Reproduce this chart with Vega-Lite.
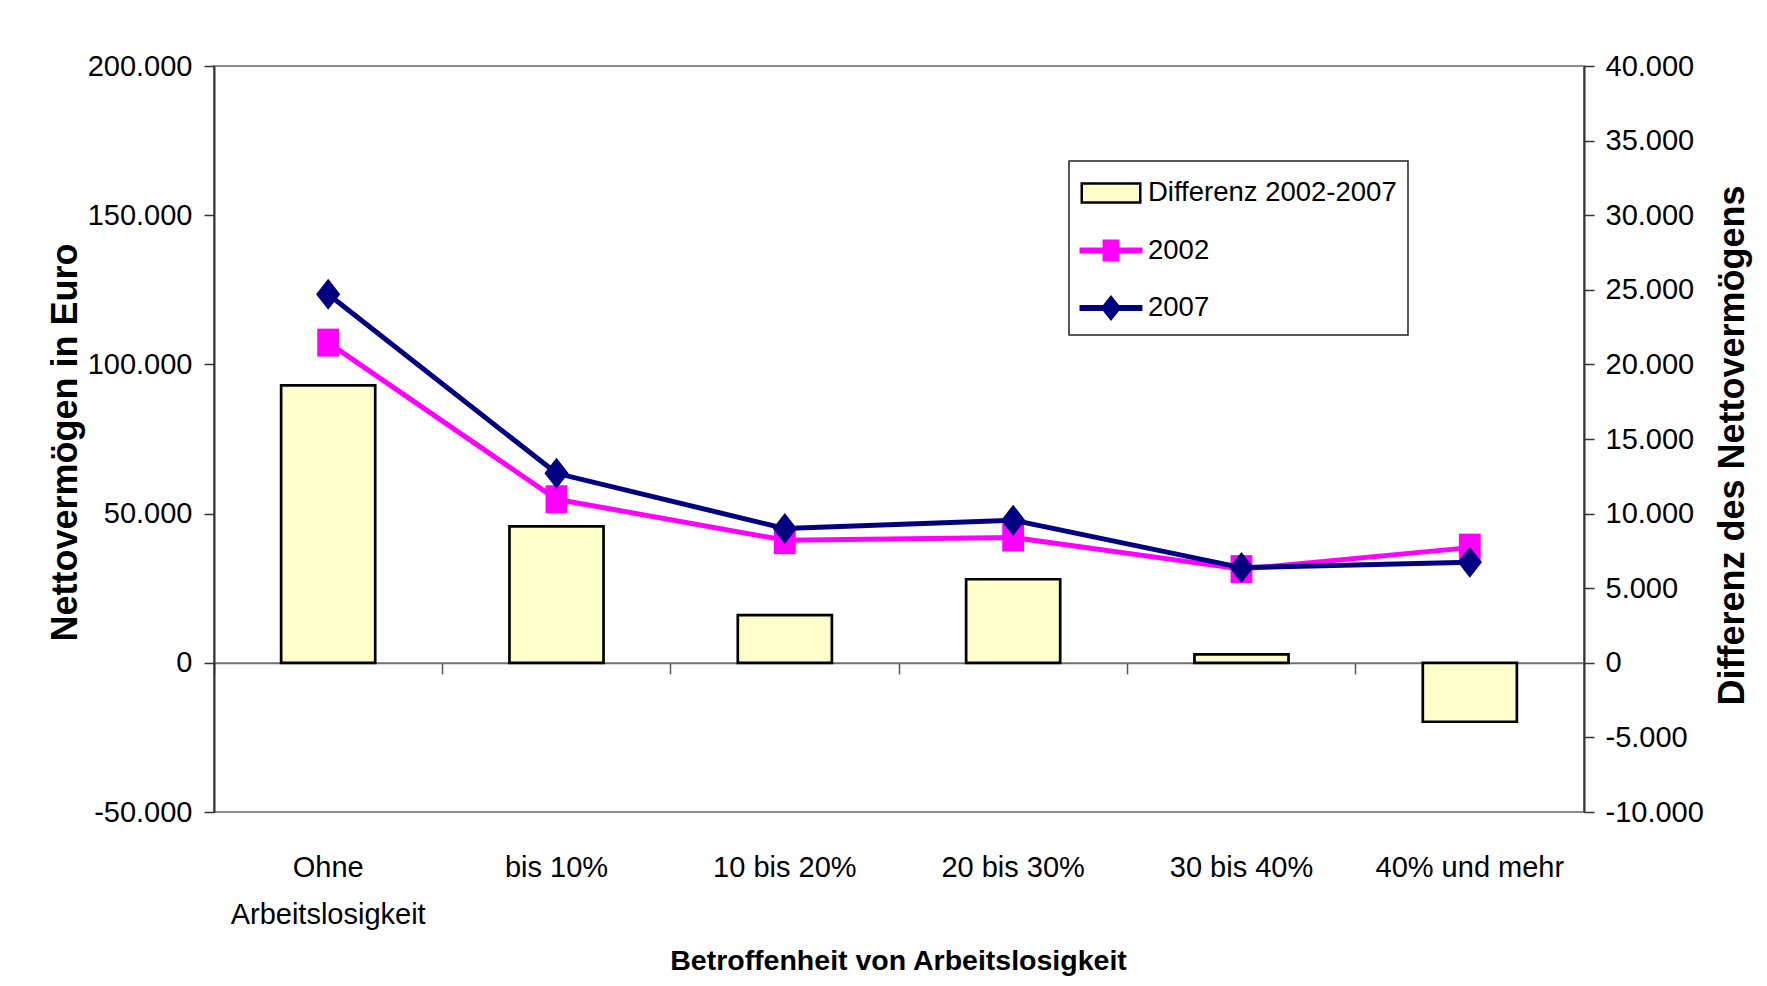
{
  "$schema": "https://vega.github.io/schema/vega-lite/v6.json",
  "width": 1370,
  "height": 746,
  "autosize": {"type": "none"},
  "padding": {"left": 214, "top": 66, "right": 183, "bottom": 174},
  "background": "white",
  "datasets": {
    "main": [
      {"cat": "Ohne Arbeitslosigkeit", "v2002": 107300, "v2007": 123500, "diff": 18600},
      {"cat": "bis 10%", "v2002": 54800, "v2007": 63500, "diff": 9150},
      {"cat": "10 bis 20%", "v2002": 41100, "v2007": 45000, "diff": 3200},
      {"cat": "20 bis 30%", "v2002": 42000, "v2007": 47800, "diff": 5600},
      {"cat": "30 bis 40%", "v2002": 31400, "v2007": 31900, "diff": 570},
      {"cat": "40% und mehr", "v2002": 38600, "v2007": 33700, "diff": -3950}
    ],
    "legend": [
      {"series": "Differenz 2002-2007"},
      {"series": "2002"},
      {"series": "2007"}
    ]
  },
  "config": {
    "locale": {"number": {"decimal": ",", "thousands": ".", "grouping": [3], "currency": ["", " €"], "minus": "-"}},
    "view": {"stroke": "#8c8c8c", "strokeWidth": 2},
    "axis": {"grid": false, "labelColor": "black", "titleColor": "black"},
    "legend": {
      "padding": 11,
      "strokeColor": "#222222",
      "strokeWidth": 1.5,
      "fillColor": "white",
      "labelFont": "Liberation Sans",
      "labelFontSize": 27.5,
      "labelColor": "black",
      "labelLimit": 500,
      "labelOffset": 16,
      "symbolSize": 1521,
      "symbolStrokeWidth": 2.5,
      "symbolOffset": 10,
      "rowPadding": 21.5,
      "symbolOpacity": 1
    }
  },
  "resolve": {"scale": {"y": "independent"}, "axis": {"x": "independent"}},
  "layer": [
    {
      "data": {"name": "main"},
      "mark": {"type": "bar", "fill": "#FFFFCC", "stroke": "black", "strokeWidth": 2.7, "width": {"band": 0.412}},
      "encoding": {
        "x": {
          "field": "cat", "type": "nominal", "sort": null,
          "scale": {"paddingInner": 0, "paddingOuter": 0},
          "axis": {
            "orient": "bottom", "domain": false, "ticks": false, "tickSize": 0,
            "labelAngle": 0, "labelFont": "Liberation Sans", "labelFontSize": 29,
            "labelPadding": 41, "labelLineHeight": 47, "labelLimit": 400,
            "labelExpr": "datum.label == 'Ohne Arbeitslosigkeit' ? ['Ohne', 'Arbeitslosigkeit'] : datum.label",
            "title": "Betroffenheit von Arbeitslosigkeit",
            "titleFont": "Liberation Sans", "titleFontWeight": "bold", "titleFontSize": 28.5,
            "titleX": 684, "titleY": 148, "titleBaseline": "middle", "titleAlign": "center"
          }
        },
        "y": {
          "field": "diff", "type": "quantitative",
          "scale": {"domain": [-10000, 40000], "nice": false, "zero": false},
          "axis": {
            "orient": "right",
            "values": [-10000, -5000, 0, 5000, 10000, 15000, 20000, 25000, 30000, 35000, 40000],
            "format": ",d",
            "labelFont": "Liberation Sans", "labelFontSize": 29, "labelPadding": 11,
            "tickSize": 10, "tickColor": "#333333", "tickWidth": 1.5,
            "domainColor": "#333333", "domainWidth": 2,
            "title": "Differenz des Nettovermögens",
            "titleFont": "Liberation Sans", "titleFontSize": 36, "titleFontWeight": "bold",
            "titleAngle": 270, "titleX": 148, "titleY": 379, "titleBaseline": "middle", "titleAlign": "center"
          }
        }
      }
    },
    {
      "layer": [
        {
          "data": {"name": "main"},
          "mark": {"type": "line", "color": "#FF00FF", "strokeWidth": 5},
          "encoding": {
            "x": {
              "field": "cat", "type": "nominal", "sort": null,
              "axis": {
                "orient": "bottom", "offset": -149.2, "labels": false, "title": null,
                "domain": true, "domainColor": "#707070", "domainWidth": 2,
                "ticks": true, "tickSize": 11, "tickColor": "#555555", "tickWidth": 1.5,
                "bandPosition": 0
              }
            },
            "y": {
              "field": "v2002", "type": "quantitative",
              "scale": {"domain": [-50000, 200000], "nice": false, "zero": false},
              "axis": {
                "orient": "left",
                "values": [-50000, 0, 50000, 100000, 150000, 200000],
                "format": ",d",
                "labelFont": "Liberation Sans", "labelFontSize": 29, "labelPadding": 12,
                "tickSize": 10, "tickColor": "#333333", "tickWidth": 1.5,
                "domainColor": "#333333", "domainWidth": 2,
                "title": "Nettovermögen in Euro",
                "titleFont": "Liberation Sans", "titleFontSize": 36, "titleFontWeight": "bold",
                "titleAngle": 270, "titleX": -149, "titleY": 376, "titleBaseline": "middle", "titleAlign": "center"
              }
            }
          }
        },
        {
          "data": {"name": "main"},
          "mark": {"type": "point", "filled": true, "opacity": 1, "shape": "M-0.78,-1H0.78V1H-0.78Z", "size": 784, "color": "#FF00FF", "strokeWidth": 0},
          "encoding": {
            "x": {"field": "cat", "type": "nominal", "sort": null},
            "y": {"field": "v2002", "type": "quantitative", "axis": {"title": "Nettovermögen in Euro"}}
          }
        },
        {
          "data": {"name": "main"},
          "mark": {"type": "line", "color": "#000080", "strokeWidth": 5},
          "encoding": {
            "x": {"field": "cat", "type": "nominal", "sort": null},
            "y": {"field": "v2007", "type": "quantitative", "axis": {"title": "Nettovermögen in Euro"}}
          }
        },
        {
          "data": {"name": "main"},
          "mark": {"type": "point", "filled": true, "opacity": 1, "shape": "M0,-1L0.78,0L0,1L-0.78,0Z", "size": 961, "color": "#000080", "strokeWidth": 0},
          "encoding": {
            "x": {"field": "cat", "type": "nominal", "sort": null},
            "y": {"field": "v2007", "type": "quantitative", "axis": {"title": "Nettovermögen in Euro"}}
          }
        },
        {
          "data": {"name": "legend"},
          "transform": [{"filter": "false"}],
          "mark": {"type": "point", "filled": true, "opacity": 1, "strokeWidth": 2.5},
          "encoding": {
            "fill": {
              "field": "series", "type": "nominal", "sort": null,
              "scale": {"domain": ["Differenz 2002-2007", "2002", "2007"], "range": ["#FFFFCC", "#FF00FF", "#000080"]},
              "legend": {"title": null, "orient": "none", "legendX": 855, "legendY": 95}
            },
            "stroke": {
              "field": "series", "type": "nominal", "sort": null,
              "scale": {"domain": ["Differenz 2002-2007", "2002", "2007"], "range": ["black", "#FF00FF", "#000080"]},
              "legend": {"title": null, "orient": "none", "legendX": 855, "legendY": 95}
            },
            "shape": {
              "field": "series", "type": "nominal", "sort": null,
              "scale": {
                "domain": ["Differenz 2002-2007", "2002", "2007"],
                "range": [
                  "M-1.5,-0.49H1.5V0.49H-1.5Z",
                  "M-1.55,-0.09H-0.37V-0.5H0.37V-0.09H1.55V0.09H0.37V0.5H-0.37V0.09H-1.55Z",
                  "M-1.55,-0.09H-0.378L0,-0.56L0.378,-0.09H1.55V0.09H0.378L0,0.56L-0.378,0.09H-1.55Z"
                ]
              },
              "legend": {"title": null, "orient": "none", "legendX": 855, "legendY": 95}
            }
          }
        }
      ]
    }
  ]
}
